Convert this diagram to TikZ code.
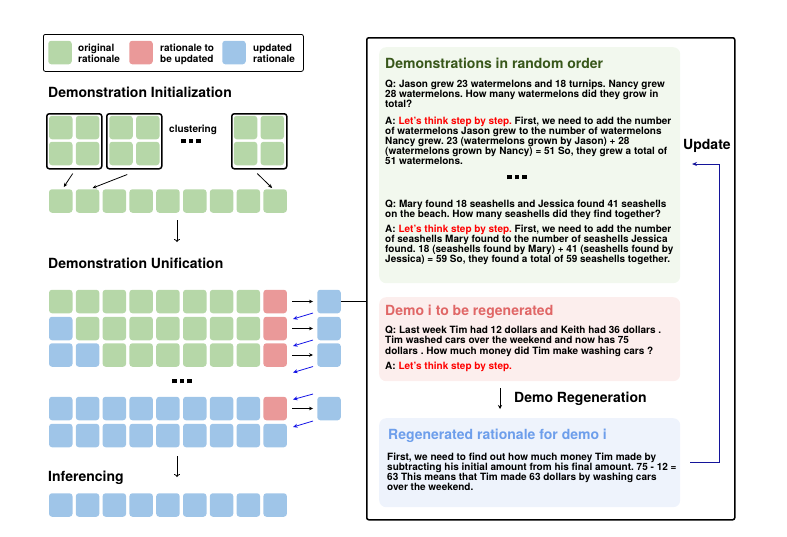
\documentclass[tikz,border=0pt]{standalone}
\usepackage{fontspec}
\setmainfont{TeX Gyre Heros}
\usetikzlibrary{arrows.meta}
\frenchspacing
\definecolor{gsq}{HTML}{B6D7A8}
\definecolor{rsq}{HTML}{EA9999}
\definecolor{bsq}{HTML}{9FC5E8}
\definecolor{gpan}{HTML}{F2F8EE}
\definecolor{rpan}{HTML}{FCEEED}
\definecolor{bpan}{HTML}{EEF3FC}
\definecolor{gtit}{HTML}{38571A}
\definecolor{rtit}{HTML}{E06666}
\definecolor{btit}{HTML}{6D9EEB}
\definecolor{redtxt}{HTML}{FF0000}
\definecolor{barrc}{HTML}{1414E6}
\definecolor{updc}{HTML}{14149A}
\newcommand{\lts}{\textcolor{redtxt}{Let's think step by step.}}
\newcommand{\sqdots}{\rule{4.5pt}{4.5pt}\hspace{3pt}\rule{4.5pt}{4.5pt}\hspace{3pt}\rule{4.5pt}{4.5pt}}
\begin{document}
\begin{tikzpicture}[x=1pt,y=-1pt,
  sq/.style={rectangle, rounded corners=3pt, minimum width=23.5pt, minimum height=23.5pt, inner sep=0pt},
  clbox/.style={draw, line width=1.5pt, rounded corners=2.5pt, minimum width=55pt, minimum height=55pt, inner sep=0pt},
  sect/.style={anchor=base west, inner sep=0pt, font=\fontsize{14}{16}\selectfont\bfseries},
  body/.style={anchor=base west, inner sep=0pt, align=left, font=\fontsize{10}{10}\selectfont\bfseries},
  leg/.style={anchor=base west, inner sep=0pt, align=left, font=\fontsize{10}{11}\selectfont\bfseries},
  panel/.style={rectangle, rounded corners=7pt, anchor=north west, minimum width=301pt, inner sep=0pt},
  barr/.style={-{Stealth[length=4pt,width=3.5pt]}, line width=0.8pt},
  bluearr/.style={-{Stealth[length=4.5pt,width=4pt]}, line width=0.8pt, draw=barrc},
  downarr/.style={-{To[length=3pt,width=6pt]}, line width=0.8pt},
  upd/.style={-{Stealth[length=5pt,width=4pt]}, line width=0.9pt, draw=updc}
]
\useasboundingbox (0,0) rectangle (787,536);

% legend (multi-line nodes: base = baseline of last line)
\node[draw, line width=0.8pt, rounded corners=2pt, anchor=north west, minimum width=260pt, minimum height=37pt, inner sep=0pt] (legend) at (43,34) {};
\node[sq, fill=gsq] (lg) at (60,52.5) {};
\node[sq, fill=rsq] (lr) at (141,52.5) {};
\node[sq, fill=bsq] (lb) at (234,52.5) {};
\node[leg] (lgt) at (78,62.5) {original\\rationale};
\node[leg] (lrt) at (160,62.5) {rationale to\\be updated};
\node[leg] (lbt) at (253,62.5) {updated\\rationale};

% Demonstration Initialization
\node[sect] (tinit) at (48,97) {Demonstration Initialization};
\node[clbox, anchor=north west] (cb1) at (46,113) {};
\node[clbox, anchor=north west] (cb2) at (106,113) {};
\node[clbox, anchor=north west] (cb3) at (231,113) {};
\foreach \bx/\x in {1/60.75, 2/121, 3/245.5} {
  \node[sq, fill=gsq] (c\bx a) at (\x,127.5) {};
  \node[sq, fill=gsq] (c\bx b) at (\x+26.8,127.5) {};
  \node[sq, fill=gsq] (c\bx c) at (\x,153.5) {};
  \node[sq, fill=gsq] (c\bx d) at (\x+26.8,153.5) {};
}
\node[inner sep=0pt, anchor=base west, font=\fontsize{10}{10}\selectfont\bfseries] (clus) at (169,132) {clustering};
\node[inner sep=0pt] (dots1) at (191,141) {\sqdots};

\foreach \i in {1,...,9} \node[sq, fill=gsq] (i\i) at ({60.75+26.8*(\i-1)},201) {};
\draw[barr] ([shift={(-1.5,4)}]cb1.south) -- ([shift={(3,-2)}]i1.north);
\draw[barr] ([shift={(-7,5)}]cb2.south) -- ([shift={(5,-1)}]i2.north);
\draw[barr] ([shift={(-2,4)}]cb3.south) -- ([shift={(-3,-1)}]i9.north);
\coordinate (d1a) at (177,220);
\coordinate (d1b) at (177,242);
\draw[downarr] (d1a) -- (d1b);

% Demonstration Unification
\node[sect] (tunif) at (48,268) {Demonstration Unification};
\foreach \c [count=\i] in {gsq,gsq,gsq,gsq,gsq,gsq,gsq,gsq,rsq} \node[sq, fill=\c] (a\i) at ({60.75+26.8*(\i-1)},301.5) {};
\foreach \c [count=\i] in {bsq,gsq,gsq,gsq,gsq,gsq,gsq,gsq,rsq} \node[sq, fill=\c] (b\i) at ({60.75+26.8*(\i-1)},328.5) {};
\foreach \c [count=\i] in {bsq,bsq,gsq,gsq,gsq,gsq,gsq,gsq,rsq} \node[sq, fill=\c] (c\i) at ({60.75+26.8*(\i-1)},355) {};
\foreach \c [count=\i] in {bsq,bsq,bsq,bsq,bsq,bsq,bsq,bsq,rsq} \node[sq, fill=\c] (d\i) at ({60.75+26.8*(\i-1)},408.5) {};
\foreach \i in {1,...,9} \node[sq, fill=bsq] (e\i) at ({60.75+26.8*(\i-1)},435.5) {};
\node[inner sep=0pt] (dots2) at (182,381) {\sqdots};
\foreach \r/\y in {a/301.5, b/328.5, c/355, d/408.5} {
  \node[sq, fill=bsq] (r\r) at (329,\y) {};
  \draw[barr, shorten <=5pt, shorten >=4pt] (\r9) -- (r\r);
}
\draw[bluearr] ([shift={(-4,11.5)}]ra.west) -- ([shift={(-24,17.5)}]ra.west);
\draw[bluearr] ([shift={(-4,11.5)}]rb.west) -- ([shift={(-24,17.5)}]rb.west);
\draw[bluearr] ([shift={(-4,11.5)}]rc.west) -- ([shift={(-24,17.5)}]rc.west);
\draw[bluearr] ([shift={(-4,-14.5)}]rd.west) -- ([shift={(-24,-9)}]rd.west);
\draw[bluearr] ([shift={(-4,12.5)}]rd.west) -- ([shift={(-24,18.5)}]rd.west);

% Inferencing
\node[sect] (tinf) at (48,481) {Inferencing};
\coordinate (d2a) at (177,456);
\coordinate (d2b) at (177,477);
\draw[downarr] (d2a) -- (d2b);
\foreach \i in {1,...,9} \node[sq, fill=bsq] (f\i) at ({60.75+26.8*(\i-1)},505) {};

% big box
\node[draw, line width=1.5pt, rounded corners=2pt, anchor=north west, minimum width=368pt, minimum height=482pt, inner sep=0pt] (big) at (366,37) {};
\draw[line width=1.2pt] (ra.east) -- (ra.east -| big.west);

% panels
\node[panel, fill=gpan, minimum height=236pt] (gp) at (379,47) {};
\node[panel, fill=rpan, minimum height=84pt] (rp) at (379,297) {};
\node[panel, fill=bpan, minimum height=89pt] (bp) at (379,418) {};

\node[sect, text=gtit] (gtitle) at (385,68) {Demonstrations in random order};
\node[body] (q1) at (385,107) {Q: Jason grew 23 watermelons and 18 turnips. Nancy grew\\28 watermelons. How many watermelons did they grow in\\total?};
\node[body] (a1) at (385,164) {A: \lts{} First, we need to add the number\\of watermelons Jason grew to the number of watermelons\\Nancy grew. 23 (watermelons grown by Jason) + 28\\(watermelons grown by Nancy) = 51 So, they grew a total of\\51 watermelons.};
\node[inner sep=0pt] (dots3) at (517,177) {\sqdots};
\node[body] (q2) at (385,217) {Q: Mary found 18 seashells and Jessica found 41 seashells\\on the beach. How many seashells did they find together?};
\node[body] (a2) at (385,262) {A: \lts{} First, we need to add the number\\of seashells Mary found to the number of seashells Jessica\\found. 18 (seashells found by Mary) + 41 (seashells found by\\Jessica) = 59 So, they found a total of 59 seashells together.};

\node[sect, text=rtit] (rtitle) at (385,315) {Demo i to be regenerated};
\node[body, font=\fontsize{10}{10.7}\selectfont\bfseries] (q3) at (385,354.4) {Q: Last week Tim had 12 dollars and Keith had 36 dollars .\\Tim washed cars over the weekend and now has 75\\dollars . How much money did Tim make washing cars ?};
\node[body] (a3) at (385,369.5) {A: \lts};

\coordinate (d3a) at (500,388);
\coordinate (d3b) at (500,409);
\draw[-{Stealth[length=4pt,width=4pt]}, line width=0.9pt] (d3a) -- (d3b);
\node[sect] (regen) at (514,402) {Demo Regeneration};

\node[sect, text=btit] (btitle) at (388,439) {Regenerated rationale for demo i};
\node[body] (a4) at (387,490.5) {First, we need to find out how much money Tim made by\\subtracting his initial amount from his final amount. 75 - 12 =\\63 This means that Tim made 63 dollars by washing cars\\over the weekend.};

% update
\coordinate (u1) at (690,462);
\coordinate (u2) at (692,164);
\draw[upd] (u1) -- (719,462) -- (719,164) -- (u2);
\node[sect] (updt) at (683,149) {Update};
\end{tikzpicture}
\end{document}
